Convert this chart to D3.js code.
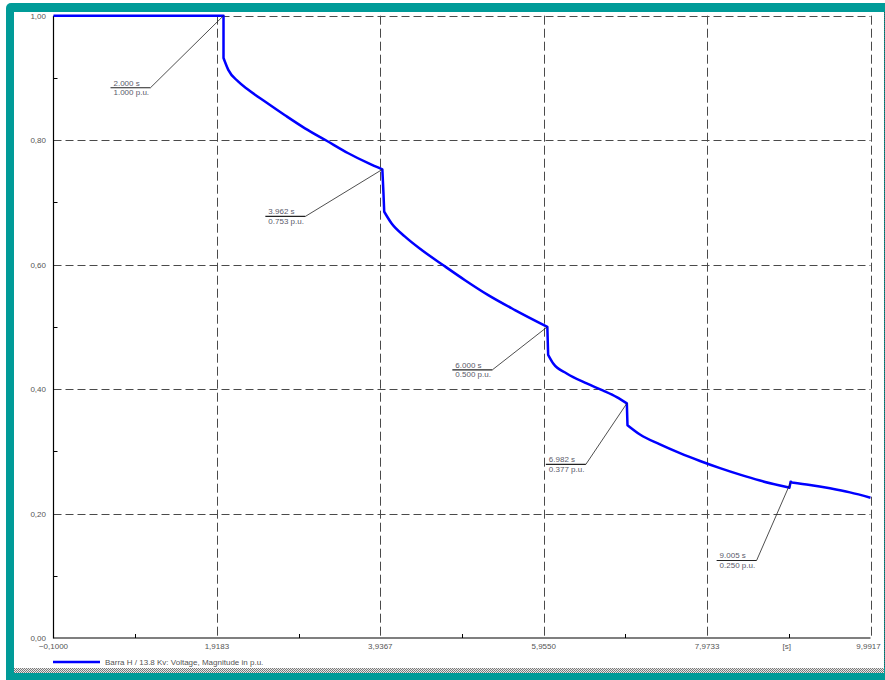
<!DOCTYPE html>
<html>
<head>
<meta charset="utf-8">
<script src="https://cdn.jsdelivr.net/npm/d3@7"></script>
<style>
  html, body { margin: 0; padding: 0; background: #fff; }
  svg { display: block; font-family: "Liberation Sans", Arial, sans-serif; }
</style>
</head>
<body>
<div id="chart"></div>
<script>
// Voltage at the 13.8 kV bus (near-equal times = steps)
const timeS = [
  -0.1, 2.0, 2.0, 2.059, 2.183, 2.306, 2.512, 2.759, 3.006, 3.274, 3.541, 3.788, 3.962,
  3.975, 3.985, 4.077, 4.242, 4.448, 4.715, 4.983, 5.27, 5.6, 6.0,
  6.01, 6.073, 6.239, 6.486, 6.691, 6.857, 6.982,
  6.99, 7.144, 7.391, 7.638, 7.886, 8.133, 8.38, 8.627, 8.874, 8.99,
  9.005, 9.02, 9.244, 9.491, 9.738, 9.9917
];
const voltagePu = [
  1.0, 1.0, 0.932, 0.913, 0.894, 0.881, 0.862, 0.840, 0.819, 0.799, 0.779, 0.763, 0.753,
  0.717, 0.685, 0.666, 0.645, 0.6235, 0.599, 0.575, 0.551, 0.527, 0.500,
  0.455, 0.441, 0.425, 0.409, 0.3975, 0.387, 0.377,
  0.342, 0.327, 0.311, 0.297, 0.2845, 0.273, 0.2625, 0.253, 0.245, 0.2415,
  0.2512, 0.250, 0.246, 0.2405, 0.234, 0.2255
];

// cursor annotations
const markTime = [2.000, 3.962, 6.000, 6.982, 9.005];
const markValue = [1.000, 0.753, 0.500, 0.377, 0.250];

const xTickValues = [-0.1, 1.9183, 3.9367, 5.955, 7.9733, 9.9917];
const yTickValues = [0, 0.2, 0.4, 0.6, 0.8, 1.0];
const xUnitLabel = "[s]";
const legendLabel = "Barra H / 13.8 Kv: Voltage, Magnitude in p.u.";

const width = 885;
const height = 680;
const teal = "#009b98";
const margin = { left: 53.5, right: 870.5, top: 15.7, bottom: 638 };

// label offsets (px) of each cursor box relative to its point
const markOffsets = [[-73, 72], [-77, 47], [-55, 43], [-41, 61], [-34, 78]];

const x = d3.scaleLinear().domain([-0.1, 9.9917]).range([margin.left, margin.right]);
const y = d3.scaleLinear().domain([0, 1]).range([margin.bottom, margin.top]);

const comma = f => v => f(v).replace(".", ",");
const fmtX = comma(d3.format(".4f"));
const fmtY = comma(d3.format(".2f"));

const svg = d3.select("#chart").append("svg")
    .attr("width", width)
    .attr("height", height)
    .attr("viewBox", [0, 0, width, height]);

// hatch pattern for the bottom strip
const defs = svg.append("defs");
const pat = defs.append("pattern")
    .attr("id", "hatch")
    .attr("width", 2).attr("height", 2)
    .attr("patternUnits", "userSpaceOnUse");
pat.append("rect").attr("width", 2).attr("height", 2).attr("fill", "#e8e8e8");
pat.append("rect").attr("width", 1).attr("height", 1).attr("fill", "#7a7a7a");
pat.append("rect").attr("x", 1).attr("y", 1).attr("width", 1).attr("height", 1).attr("fill", "#7a7a7a");

// frame
svg.append("rect")
    .attr("x", 6).attr("y", 3)
    .attr("width", 900).attr("height", 700)
    .attr("rx", 5)
    .attr("fill", teal);
svg.append("rect")
    .attr("x", 14).attr("y", 12)
    .attr("width", 870).attr("height", 656)
    .attr("fill", "#fff");
svg.append("rect")
    .attr("x", 14).attr("y", 668)
    .attr("width", 870).attr("height", 5)
    .attr("fill", "url(#hatch)");
svg.append("line")
    .attr("x1", 884.5).attr("x2", 884.5)
    .attr("y1", 12).attr("y2", 668)
    .attr("stroke", "#2a5a5a")
    .attr("stroke-dasharray", "1,1");

// grid
const grid = svg.append("g")
    .attr("stroke", "#4a4a4a")
    .attr("stroke-width", 1)
    .attr("stroke-dasharray", "8,4")
    .attr("fill", "none");

grid.selectAll(".gy")
    .data(yTickValues.filter(v => v > 0))
    .join("line")
    .attr("x1", margin.left).attr("x2", margin.right)
    .attr("y1", d => Math.round(y(d)) + 0.5)
    .attr("y2", d => Math.round(y(d)) + 0.5);

grid.selectAll(".gx")
    .data(xTickValues.slice(1))
    .join("line")
    .attr("x1", d => Math.round(x(d)) + 0.5)
    .attr("x2", d => Math.round(x(d)) + 0.5)
    .attr("y1", margin.top).attr("y2", margin.bottom)
    .attr("stroke-dasharray", "9,4");

// minor ticks
const yMinor = d3.pairs(yTickValues).map(([a, b]) => (a + b) / 2);
const xMinor = d3.pairs(xTickValues).map(([a, b]) => (a + b) / 2);

svg.append("g")
    .attr("stroke", "#000")
    .selectAll("line")
    .data(yMinor)
    .join("line")
    .attr("x1", margin.left).attr("x2", margin.left + 4)
    .attr("y1", d => Math.round(y(d)) + 0.5)
    .attr("y2", d => Math.round(y(d)) + 0.5);

svg.append("g")
    .attr("stroke", "#000")
    .selectAll("line")
    .data(xMinor)
    .join("line")
    .attr("x1", d => Math.round(x(d)) + 0.5)
    .attr("x2", d => Math.round(x(d)) + 0.5)
    .attr("y1", margin.bottom).attr("y2", margin.bottom - 4);

// axes lines
svg.append("line")
    .attr("x1", margin.left).attr("x2", margin.left)
    .attr("y1", margin.top).attr("y2", margin.bottom + 0.5)
    .attr("stroke", "#000").attr("stroke-width", 1.2);
svg.append("line")
    .attr("x1", margin.left).attr("x2", margin.right)
    .attr("y1", margin.bottom).attr("y2", margin.bottom)
    .attr("stroke", "#000").attr("stroke-width", 1.2);

// tick labels
svg.append("g")
    .attr("font-size", 8)
    .attr("fill", "#555")
    .attr("text-anchor", "end")
    .selectAll("text")
    .data(yTickValues)
    .join("text")
    .attr("x", 46)
    .attr("y", d => y(d) + 3)
    .text(fmtY);

svg.append("g")
    .attr("font-size", 8)
    .attr("fill", "#555")
    .attr("text-anchor", "middle")
    .selectAll("text")
    .data(xTickValues)
    .join("text")
    .attr("x", (d, i) => i === xTickValues.length - 1 ? x(d) - 2 : x(d))
    .attr("y", margin.bottom + 10.5)
    .text(fmtX);

svg.append("text")
    .attr("font-size", 8)
    .attr("fill", "#555")
    .attr("text-anchor", "middle")
    .attr("x", x(xMinor[xMinor.length - 1]) - 2)
    .attr("y", margin.bottom + 10.5)
    .text(xUnitLabel);

// the curve: smooth pieces between the steps, straight at the steps
const series = timeS.map((t, i) => ({ t, v: voltagePu[i] }));
const pieces = [];
series.forEach((p, i) => {
    if (i === 0 || p.t - series[i - 1].t < 0.02) pieces.push([p]);
    else pieces[pieces.length - 1].push(p);
});
const line = d3.line().x(d => x(d.t)).y(d => y(d.v)).curve(d3.curveMonotoneX);
const pathD = pieces
    .map((s, i) => {
        const d = line(s).replace(/Z/g, "");
        return i ? d.replace(/^M/, "L") : d;
    })
    .join("");

svg.append("path")
    .attr("fill", "none")
    .attr("stroke", "#0000ff")
    .attr("stroke-width", 2.5)
    .attr("stroke-linejoin", "round")
    .attr("d", pathD);

// cursor annotations
const marks = markTime.map((t, i) => ({ t, v: markValue[i], off: markOffsets[i] }));
const fmt3 = d3.format(".3f");

const mark = svg.append("g")
    .selectAll("g")
    .data(marks)
    .join("g");

mark.append("line")
    .attr("x1", d => x(d.t)).attr("y1", d => y(d.v))
    .attr("x2", d => x(d.t) + d.off[0])
    .attr("y2", d => y(d.v) + d.off[1])
    .attr("stroke", "#222").attr("stroke-width", 0.8);

mark.append("line")
    .attr("x1", d => x(d.t) + d.off[0] - 40)
    .attr("x2", d => x(d.t) + d.off[0])
    .attr("y1", d => y(d.v) + d.off[1])
    .attr("y2", d => y(d.v) + d.off[1])
    .attr("stroke", "#222").attr("stroke-width", 1.1);

mark.append("text")
    .attr("font-size", 8)
    .attr("fill", "#5a5a6a")
    .attr("x", d => x(d.t) + d.off[0] - 37)
    .attr("y", d => y(d.v) + d.off[1] - 2)
    .text(d => `${fmt3(d.t)} s`);

mark.append("text")
    .attr("font-size", 8)
    .attr("fill", "#5a5a6a")
    .attr("x", d => x(d.t) + d.off[0] - 37)
    .attr("y", d => y(d.v) + d.off[1] + 7.5)
    .text(d => `${fmt3(d.v)} p.u.`);

// legend
svg.append("line")
    .attr("x1", 53).attr("x2", 100)
    .attr("y1", 662).attr("y2", 662)
    .attr("stroke", "#0000ff").attr("stroke-width", 2.5);
svg.append("text")
    .attr("font-size", 8)
    .attr("fill", "#555")
    .attr("x", 105)
    .attr("y", 665)
    .text(legendLabel);
</script>
</body>
</html>
